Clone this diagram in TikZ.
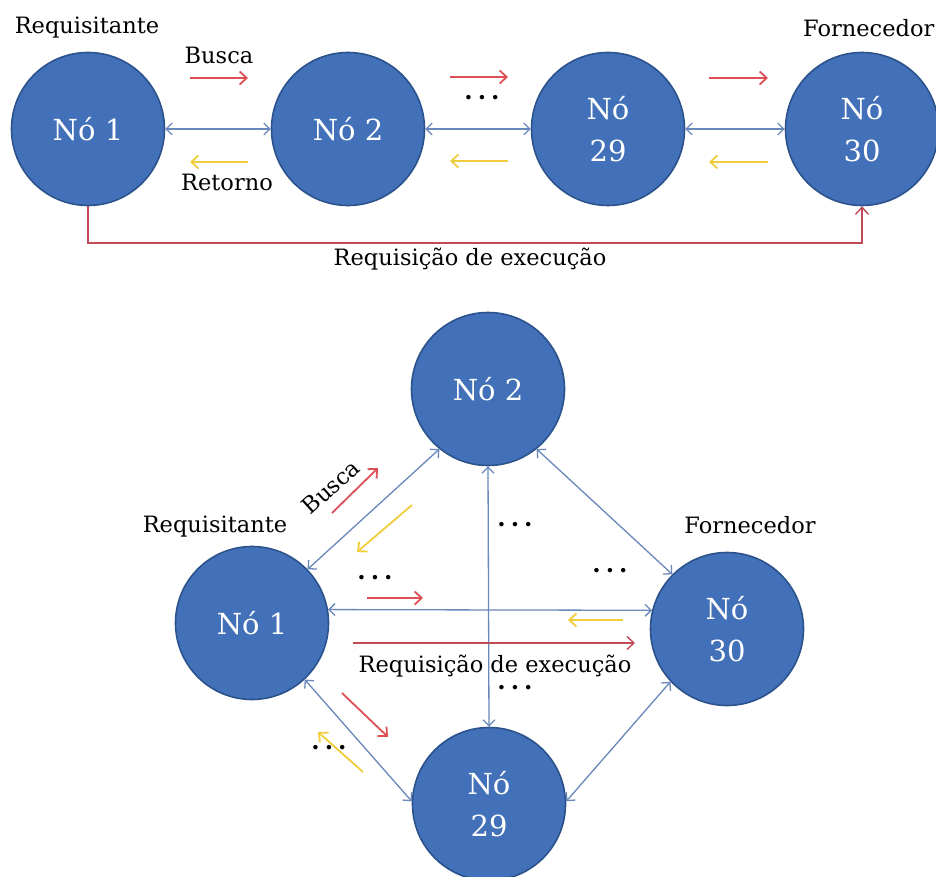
\documentclass[tikz,border=0pt]{standalone}
\usepackage{fontspec}
\setmainfont{DejaVu Serif}
\usetikzlibrary{arrows.meta}
\definecolor{circfill}{RGB}{66,113,185}
\definecolor{circborder}{RGB}{44,82,140}
\definecolor{linkblue}{RGB}{105,135,185}
\definecolor{redarr}{RGB}{220,80,85}
\definecolor{yelarr}{RGB}{240,205,60}
\definecolor{execred}{RGB}{190,75,85}
\begin{document}
\begin{tikzpicture}[x=1pt,y=-1pt,
  nodecirc/.style={circle, fill=circfill, draw=circborder, line width=1.6pt,
    minimum size=153pt, inner sep=0pt, text=white, align=center,
    font=\fontsize{29}{42}\selectfont},
  lbl/.style={font=\fontsize{22.5}{26}\selectfont, text=black, inner sep=0pt},
  dotlbl/.style={font=\fontsize{24}{26}\selectfont\bfseries, text=black, inner sep=0pt},
  link/.style={draw=linkblue, line width=1.3pt,
    {Straight Barb[length=6pt,width=12pt]}-{Straight Barb[length=6pt,width=12pt]}},
  busca/.style={draw=redarr, line width=1.8pt, -{Straight Barb[length=7pt,width=13pt]}},
  retorno/.style={draw=yelarr, line width=1.8pt, -{Straight Barb[length=7pt,width=13pt]}},
  exec/.style={draw=execred, line width=1.4pt, -{Straight Barb[length=7pt,width=13pt]}}
]
\useasboundingbox (0,0) rectangle (936,877);
\fill[white] (0,0) rectangle (936,877);

% ---------- top diagram ----------
\node[nodecirc] (t1) at (88,129) {Nó 1};
\node[nodecirc] (t2) at (348,129) {Nó 2};
\node[nodecirc] (t29) at (608,129) {Nó\\29};
\node[nodecirc] (t30) at (862,129) {Nó\\30};

\node[lbl] (treq) at (87,28) {Requisitante};
\node[lbl, anchor=west] (tforn) at (803,28) {Fornecedor};
\node[lbl] (tbusca) at (219,55) {Busca};
\node[lbl] (tret) at (227,182) {Retorno};
\node[dotlbl] (tdots) at (482,98) {.\kern5pt.\kern5pt.};

\draw[link] (t1) -- (t2);
\draw[link] (t2) -- (t29);
\draw[link] (t29) -- (t30);

\draw[busca] (190,78) -- (248,78);
\draw[busca] (450,77) -- (508,77);
\draw[busca] (709,78) -- (768,78);
\draw[retorno] (248,162) -- (190,162);
\draw[retorno] (508,161) -- (450,161);
\draw[retorno] (768,162) -- (709,162);

\coordinate (tc) at (88,243);
\draw[exec] (t1.south) -- (tc) -| (t30.south);
\node[lbl] (texec) at (470,259) {Requisição de execução};

% ---------- bottom diagram ----------
\node[nodecirc] (b2) at (488,389) {Nó 2};
\node[nodecirc] (b1) at (252,623) {Nó 1};
\node[nodecirc] (b30) at (727,629) {Nó\\30};
\node[nodecirc] (b29) at (489,804) {Nó\\29};

\node[lbl] (breq) at (215,527) {Requisitante};
\node[lbl] (bforn) at (750,525) {Fornecedor};
\node[lbl, rotate=42] (bbusca) at (331,487) {Busca};
\node[lbl] (bexec) at (495,666) {Requisição de execução};

\node[dotlbl] (bd1) at (515,525) {.\kern5pt.\kern5pt.};
\node[dotlbl] (bd2) at (610,571) {.\kern5pt.\kern5pt.};
\node[dotlbl] (bd3) at (375,578) {.\kern5pt.\kern5pt.};
\node[dotlbl] (bd4) at (515,688) {.\kern5pt.\kern5pt.};
\node[dotlbl] (bd5) at (329,748) {.\kern5pt.\kern5pt.};

\draw[link] (b1.44) -- (b2.-129);
\draw[link] (b2.-51) -- (b30.135);
\draw[link] (b30.-137) -- (b29.2);
\draw[link] (b1.-47) -- (b29.178);
\draw[link] (b2.south) -- (b29.north);
\draw[link] (b1.10) -- (b30.166);

\draw[busca] (332,513) -- (378,468);
\draw[retorno] (412,505) -- (357,552);
\draw[busca] (367,598) -- (423,598);
\draw[retorno] (623,620) -- (568,620);
\draw[exec] (353,643) -- (635,643);
\draw[busca] (342,693) -- (388,737);
\draw[retorno] (363,772) -- (318,732);
\end{tikzpicture}
\end{document}
